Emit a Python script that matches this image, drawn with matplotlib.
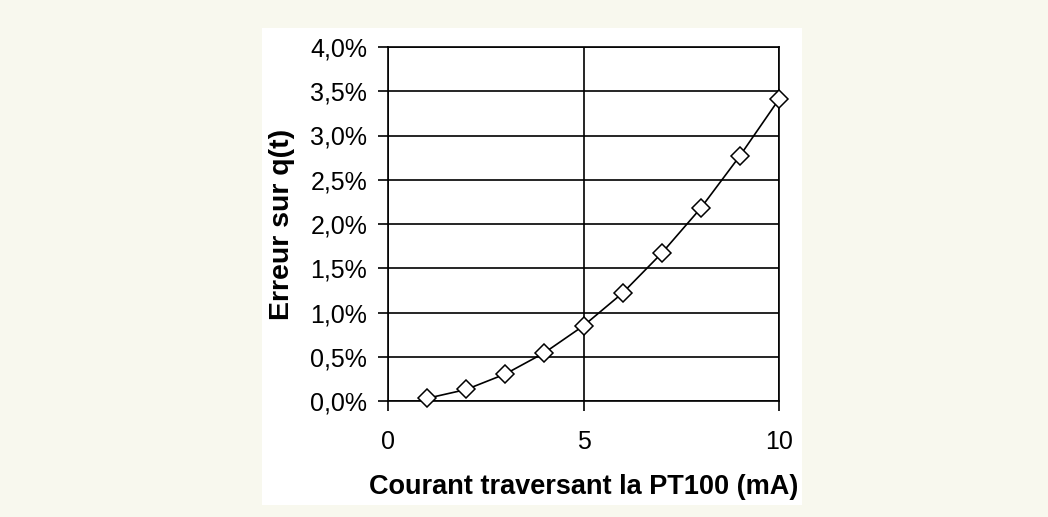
import matplotlib.pyplot as plt
from matplotlib.patches import Rectangle
from matplotlib.ticker import FuncFormatter

plt.rcParams['font.family'] = ['Liberation Sans', 'DejaVu Sans']

# Data
courant_mA = [1, 2, 3, 4, 5, 6, 7, 8, 9, 10]
erreur_pct = [0.03, 0.13, 0.305, 0.545, 0.85, 1.22, 1.67, 2.18, 2.77, 3.41]
x_ticks = [0, 5, 10]
y_ticks = [0, 0.5, 1.0, 1.5, 2.0, 2.5, 3.0, 3.5, 4.0]

W, H = 1048, 517
fig = plt.figure(figsize=(W / 100, H / 100), dpi=100)
fig.patch.set_facecolor('#f8f8ee')

# white panel behind the chart
fig.add_artist(Rectangle((262 / W, 1 - 505 / H), (802 - 262) / W, (505 - 28) / H,
                         transform=fig.transFigure, facecolor='white',
                         edgecolor='none', zorder=-5))

ax = fig.add_axes([388 / W, 1 - 401 / H, (779 - 388) / W, (401 - 47) / H])
ax.set_zorder(2)
ax.set_facecolor('white')

ax.plot(courant_mA, erreur_pct, color='black', lw=1.2, marker='D', ms=9,
        mfc='white', mec='black', mew=1.1, zorder=3, clip_on=False)

ax.set_xlim(0, 10)
ax.set_ylim(0, 4.0)
ax.set_xticks(x_ticks)
ax.set_yticks(y_ticks)
ax.yaxis.set_major_formatter(FuncFormatter(lambda v, p: f'{v:.1f}%'.replace('.', ',')))
ax.grid(True, color='black', lw=1.2)
ax.set_axisbelow(True)
for s in ax.spines.values():
    s.set_color('black')
    s.set_linewidth(1.2)

ax.tick_params(axis='both', direction='out', length=7, width=1.2, labelsize=18,
               colors='black', pad=8)
ax.tick_params(axis='x', pad=14)

ax.set_xlabel('Courant traversant la PT100 (mA)', fontsize=19.5, fontweight='bold', labelpad=14)
ax.set_ylabel('Erreur sur q(t)', fontsize=20.5, fontweight='bold', labelpad=11)

fig.savefig('out.png', dpi=100, facecolor=fig.get_facecolor())
